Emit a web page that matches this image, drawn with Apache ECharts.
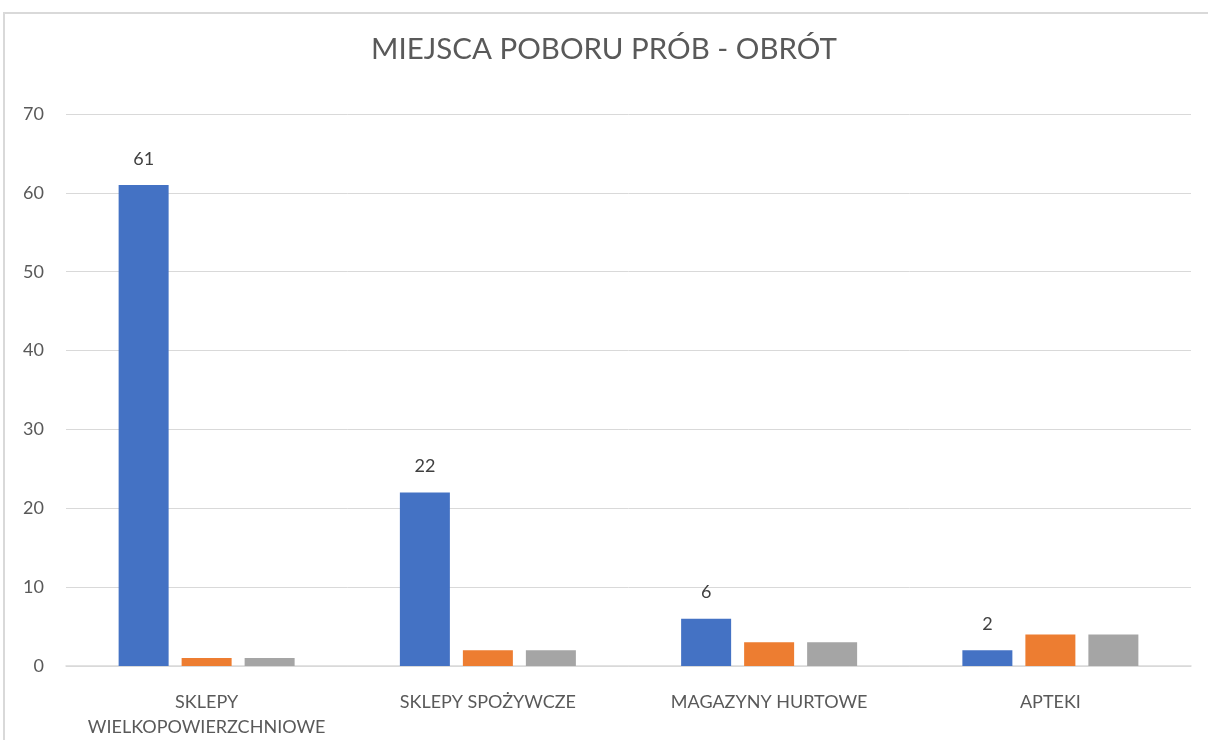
<!DOCTYPE html>
<html>
<head>
<meta charset="utf-8">
<script src="https://cdn.jsdelivr.net/npm/echarts@6/dist/echarts.min.js"></script>
<style>
  html, body { margin: 0; padding: 0; background: #fff; }
  #chart { width: 1208px; height: 740px; }
</style>
</head>
<body>
<div id="chart"></div>
<script>
var categories = ['SKLEPY\nWIELKOPOWIERZCHNIOWE', 'SKLEPY SPOŻYWCZE', 'MAGAZYNY HURTOWE', 'APTEKI'];
var seriesA = [61, 22, 6, 2];
var seriesB = [1, 2, 3, 4];
var seriesC = [1, 2, 3, 4];

var chartDom = document.getElementById('chart');
var myChart = echarts.init(chartDom);
var font = 'Lato, "Open Sans", sans-serif';

var option = {
  animation: false,
  title: {
    text: 'MIEJSCA POBORU PRÓB - OBRÓT',
    left: 'center',
    top: 29,
    textStyle: { fontFamily: font, fontSize: 29.5, fontWeight: 'normal', color: '#595959' }
  },
  graphic: [{
    type: 'rect',
    shape: { x: 4, y: 13, width: 1230, height: 760 },
    style: { fill: 'none', stroke: '#d9d9d9', lineWidth: 2 },
    silent: true
  }],
  grid: { left: 66, right: 17, top: 114, bottom: 74 },
  xAxis: {
    type: 'category',
    data: categories,
    axisTick: { show: false },
    axisLine: { lineStyle: { color: '#d9d9d9', width: 1.5 } },
    axisLabel: { interval: 0, hideOverlap: false, color: '#595959', fontFamily: font, fontSize: 18, margin: 24, lineHeight: 25 }
  },
  yAxis: {
    type: 'value',
    min: 0,
    max: 70,
    interval: 10,
    axisLine: { show: false },
    axisTick: { show: false },
    splitLine: { lineStyle: { color: '#d9d9d9', width: 1 } },
    axisLabel: { color: '#595959', fontFamily: font, fontSize: 18, margin: 22 }
  },
  series: [
    {
      name: 'A', type: 'bar', data: seriesA, barWidth: 50, barGap: '26%',
      itemStyle: { color: '#4472c4' },
      label: { show: true, position: 'top', distance: 17, color: '#404040', fontFamily: font, fontSize: 18 }
    },
    { name: 'B', type: 'bar', data: seriesB, barWidth: 50, barGap: '26%', itemStyle: { color: '#ed7d31' } },
    { name: 'C', type: 'bar', data: seriesC, barWidth: 50, barGap: '26%', itemStyle: { color: '#a5a5a5' } }
  ]
};

option && myChart.setOption(option);
</script>
</body>
</html>
